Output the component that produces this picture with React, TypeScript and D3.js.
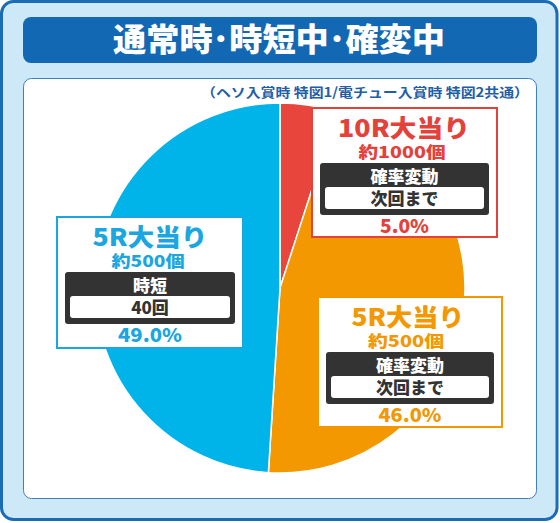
import { useEffect } from "react";
import * as d3 from "d3";

// slices, clockwise from 12 o'clock
const categories = ["10R大当り", "5R大当り", "5R大当り"];
const shares = [5.0, 46.0, 49.0];
const payouts = ["約1000個", "約500個", "約500個"];
const modes = ["確率変動", "確率変動", "時短"];
const durations = ["次回まで", "次回まで", "40回"];
const colors = ["#e8453c", "#f39800", "#00b3e8"];
const labelColors = ["#e5413b", "#f39800", "#1aa6e0"];

const title = "通常時･時短中･確変中";
const subtitle = "（ヘソ入賞時 特図1/電チュー入賞時 特図2共通）";

const W = 560;
const H = 523;
const FONT = "'Noto Sans CJK JP', 'Noto Sans', sans-serif";

// label box placement (top-left), size and text widths per slice
const boxes = [
  { x: 312, y: 108, w: 185, h: 129, head: 404, headW: 132, subW: 87, pctW: 49 },
  { x: 318, y: 297, w: 184, h: 130, head: 408, headW: 113, subW: 76, pctW: 63 },
  { x: 57, y: 217, w: 186, h: 131, head: 150, headW: 115, subW: 73, pctW: 64 },
];

const cx = 280;
const cy = 288;
const radius = 185;

export default function App() {
  useEffect(() => {
    document.body.style.margin = "0";
  }, []);

  const pie = d3
    .pie<number>()
    .sort(null)
    .value((d) => d)
    .startAngle(0)
    .endAngle(2 * Math.PI);
  const arcs = pie(shares);
  const arc = d3.arc<d3.PieArcDatum<number>>().innerRadius(0).outerRadius(radius);
  const fmt = d3.format(".1f");

  return (
    <svg width={W} height={H} style={{ display: "block" }} fontFamily={FONT}>
      <rect x={1.5} y={1.5} width={555.5} height={518} rx={12} fill="#cde9f8" stroke="#1a6db4" strokeWidth={3} />
      <rect x={23} y={17} width={514} height={46} rx={8} fill="#1368b3" />
      <text x={279} y={51} textAnchor="middle" fill="#fff" fontSize={32} fontWeight={900} textLength={332} lengthAdjust="spacingAndGlyphs">
        {title}
      </text>
      <rect x={23.5} y={78.5} width={513} height={420} rx={8} fill="#fff" stroke="#3f7fc2" strokeWidth={1} />
      <text x={529} y={97} textAnchor="end" fill="#1f5ea8" fontSize={13} fontWeight={700} textLength={328} lengthAdjust="spacingAndGlyphs">
        {subtitle}
      </text>

      <g transform={`translate(${cx},${cy})`}>
        {arcs.map((a, i) => (
          <path key={i} d={arc(a) ?? ""} fill={colors[i]} stroke="#fff" strokeWidth={1.5} />
        ))}
      </g>

      {boxes.map((b, i) => {
        const mid = b.x + b.w / 2;
        const c = labelColors[i];
        return (
          <g key={i}>
            <rect x={b.x} y={b.y} width={b.w} height={b.h} fill="#fff" stroke={c} strokeWidth={2} />
            <text x={b.head} y={b.y + 29} textAnchor="middle" fill={c} fontSize={24} fontWeight={900} textLength={b.headW} lengthAdjust="spacingAndGlyphs">
              {categories[i]}
            </text>
            <text x={b.head - 2} y={b.y + 50} textAnchor="middle" fill={c} fontSize={16} fontWeight={900} textLength={b.subW} lengthAdjust="spacingAndGlyphs">
              {payouts[i]}
            </text>
            <rect x={b.x + 8} y={b.y + 55} width={b.w - 16} height={52} rx={3} fill="#333" />
            <text x={mid} y={b.y + 75} textAnchor="middle" fill="#fff" fontSize={17} fontWeight={900}>
              {modes[i]}
            </text>
            <rect x={b.x + 13} y={b.y + 79} width={b.w - 26} height={22} rx={3} fill="#fff" />
            <text x={mid} y={b.y + 97} textAnchor="middle" fill="#333" fontSize={17} fontWeight={900}>
              {durations[i]}
            </text>
            <text x={mid} y={b.y + 125} textAnchor="middle" fill={c} fontSize={19} fontWeight={900} textLength={b.pctW} lengthAdjust="spacingAndGlyphs">
              {fmt(shares[i])}%
            </text>
          </g>
        );
      })}
    </svg>
  );
}
